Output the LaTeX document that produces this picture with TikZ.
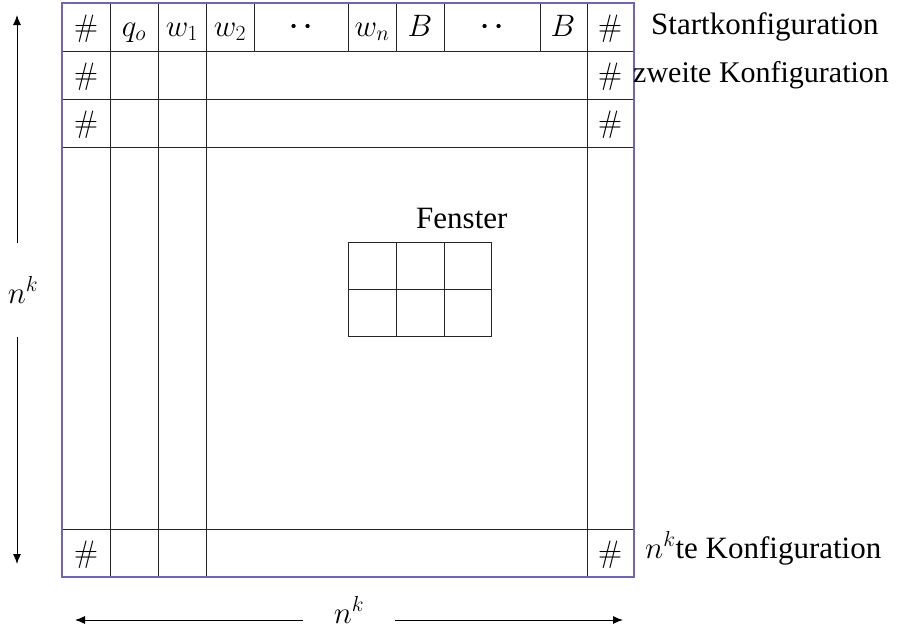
\RequirePackage{fix-cm}
\documentclass[tikz,border=0pt]{standalone}
\usepackage[no-math]{fontspec}
\setmainfont{Liberation Serif}
\usetikzlibrary{arrows.meta}
\definecolor{frameblue}{RGB}{110,100,190}
\newcommand{\twodots}{\smash{\fontsize{40}{48}\selectfont$\cdot\mkern1mu\cdot$}}
\begin{document}
\begin{tikzpicture}[x=1pt,y=-1pt,
  gridline/.style={line width=1pt,black!85},
  frame/.style={line width=1.2pt,frameblue},
  cell/.style={anchor=base,inner sep=0pt,font=\fontsize{31}{37}\selectfont},
  lbl/.style={anchor=base west,inner sep=0pt,font=\fontsize{31}{37}\selectfont},
  dimarrow/.style={line width=1pt,-{Latex[length=10pt,width=8pt]}}]
\useasboundingbox (0,0) rectangle (903,632);
% horizontal lines
\foreach \y in {51,99,147,529} \draw[gridline] (62,\y) -- (634,\y);
% full-height vertical lines
\foreach \x in {110,158,206,587} \draw[gridline] (\x,3) -- (\x,577);
% top row extra dividers
\foreach \x in {254,348,396,444,540} \draw[gridline] (\x,3) -- (\x,51);
% outer frame
\draw[frame] (62,3) rectangle (634,577);
% top row contents
\node[cell] (c1) at (86,36) {$\#$};
\node[cell] (c2) at (134,36) {$q_o$};
\node[cell] (c3) at (182,36) {$w_1$};
\node[cell] (c4) at (230,36) {$w_2$};
\node[cell] (c5) at (301,36) {\twodots};
\node[cell] (c6) at (372,36) {$w_n$};
\node[cell] (c7) at (420,36) {$B$};
\node[cell] (c8) at (492,36) {\twodots};
\node[cell] (c9) at (563,36) {$B$};
\node[cell] (c10) at (610,36) {$\#$};
% other rows
\node[cell] (r2l) at (86,84) {$\#$};
\node[cell] (r2r) at (610,84) {$\#$};
\node[cell] (r3l) at (86,132) {$\#$};
\node[cell] (r3r) at (610,132) {$\#$};
\node[cell] (rnl) at (86,562) {$\#$};
\node[cell] (rnr) at (610,562) {$\#$};
% window
\draw[gridline] (348,242) rectangle (491,336);
\draw[gridline] (348,289) -- (491,289);
\draw[gridline] (396,242) -- (396,336);
\draw[gridline] (444,242) -- (444,336);
\node[lbl] (fenster) at (416,228) {Fenster};
% right labels
\node[lbl] (start) at (651,34) {Startkonfiguration};
\node[lbl,font=\fontsize{30}{36}\selectfont] (zweite) at (633,82) {zweite Konfiguration};
\node[lbl] (nte) at (645,558) {$n^k$te Konfiguration};
% vertical dimension
\node[inner sep=0pt,minimum height=94pt,font=\fontsize{31}{37}\selectfont] (vk) at (23,290) {$n^k$};
\coordinate (vtop) at (17,15);
\coordinate (vbot) at (17,564);
\draw[dimarrow] (vk.north -| vtop) -- (vtop);
\draw[dimarrow] (vk.south -| vbot) -- (vbot);
% horizontal dimension
\node[inner sep=0pt,minimum width=92pt,font=\fontsize{31}{37}\selectfont] (hk) at (349,610) {$n^k$};
\coordinate (hleft) at (75,620);
\coordinate (hright) at (623,620);
\draw[dimarrow] (hk.west |- hleft) -- (hleft);
\draw[dimarrow] (hk.east |- hright) -- (hright);
\end{tikzpicture}
\end{document}
